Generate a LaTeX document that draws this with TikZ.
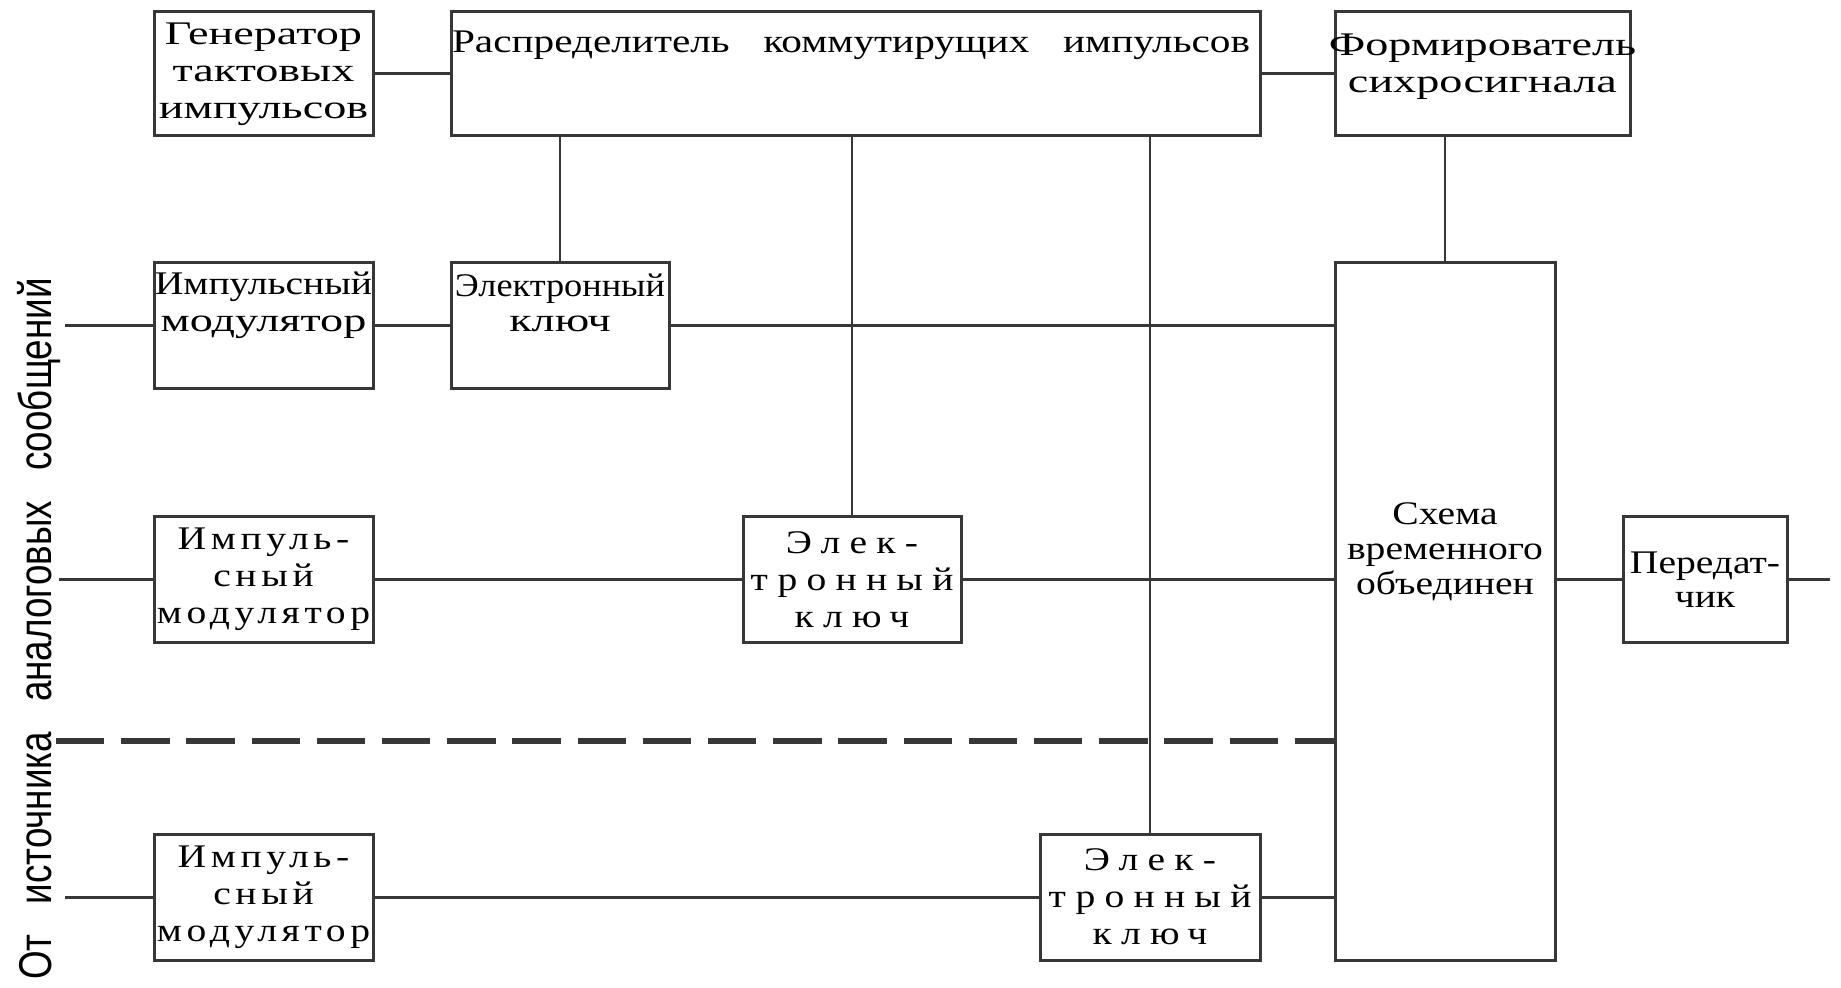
\documentclass[tikz,border=0pt]{standalone}
\usepackage{fontspec}
\setmainfont{Liberation Serif}
\newfontfamily\boxfont[FakeStretch=1.4]{Liberation Serif}
\newfontfamily\distrfont[FakeStretch=1.25]{Liberation Serif}
\newfontfamily\narrowfont[FakeStretch=1.2]{Liberation Serif}
\newfontfamily\tightfont[FakeStretch=1.1]{Liberation Serif}
\newfontfamily\spacedfont[FakeStretch=1.2,LetterSpace=14]{Liberation Serif}
\newfontfamily\widefont[FakeStretch=1.2,LetterSpace=28]{Liberation Serif}
\newfontfamily\sidefont[FakeStretch=0.8]{Liberation Sans}
\definecolor{lc}{RGB}{55,55,55}
\begin{document}
\begin{tikzpicture}[x=0.5pt,y=-0.5pt,
  box/.style={draw=lc,line width=1.5pt,inner sep=0pt,outer sep=0pt,align=center,
    font=\boxfont\fontsize{16.5}{18.5}\selectfont},
  txt/.style={inner sep=0pt,align=center,font=\boxfont\fontsize{16.5}{18.5}\selectfont},
  conn/.style={draw=lc,line width=1.5pt},
  vconn/.style={draw=lc,line width=1.1pt},
  sep/.style={draw=lc,line width=2.6pt,dash pattern=on 24.15pt off 8.45pt}]
\useasboundingbox (0,0) rectangle (1841,988);
% boxes
\node[box,minimum width=109.5pt,minimum height=62pt] (gen) at (263.5,74) {Генератор\\тактовых\\импульсов};
\node[box,minimum width=404.5pt,minimum height=62pt] (distr) at (855.5,74) {};
\node[box,minimum width=147.5pt,minimum height=62pt] (former) at (1482.5,74) {};
\node[box,minimum width=109.5pt,minimum height=63pt] (imp1) at (263.5,326) {};
\node[box,minimum width=109pt,minimum height=63pt] (key1) at (560,326) {};
\node[box,minimum width=110pt,minimum height=348.5pt] (schema) at (1445,611.5) {};
\node[box,minimum width=109.5pt,minimum height=62.5pt,font=\spacedfont\fontsize{16.5}{18.5}\selectfont] (imp2) at (263.5,579.5) {Импуль-\\сный\\модулятор};
\node[box,minimum width=109pt,minimum height=62.5pt,font=\widefont\fontsize{16.5}{18.5}\selectfont] (key2) at (852,579.5) {Элек-\\тронный\\ключ};
\node[box,minimum width=82pt,minimum height=62.5pt,font=\narrowfont\fontsize{16.5}{17}\selectfont] (trans) at (1705,579.5) {Передат-\\чик};
\node[box,minimum width=109.5pt,minimum height=63pt,font=\spacedfont\fontsize{16.5}{18.5}\selectfont] (imp3) at (263.5,897) {Импуль-\\сный\\модулятор};
\node[box,minimum width=110pt,minimum height=63pt,font=\widefont\fontsize{16.5}{18.5}\selectfont] (key3) at (1150,897) {Элек-\\тронный\\ключ};
% texts placed at top of boxes
\node[txt,font=\distrfont\fontsize{16.5}{18.5}\selectfont] (distrt) at (851,45) {\makebox[399pt][s]{Распределитель\hfill коммутирущих\hfill импульсов}};
\node[txt] (formert) at (1482.5,67) {Формирователь\\сихросигнала};
\node[txt] (imp1t) at (263.5,305) {{\narrowfont Импульсный}\\модулятор};
\node[txt,font=\tightfont\fontsize{16.5}{17.5}\selectfont] (key1t) at (560,303) {Электронный\\{\boxfont ключ}};
\node[txt,font=\narrowfont\fontsize{16.5}{17.5}\selectfont] (schemat) at (1445,552) {Схема\\временного\\объединен};
% side label
\node[rotate=90,anchor=base,inner sep=0pt,font=\sidefont\fontsize{23}{23}\selectfont] (side) at (51,629)
  {От\hspace{15pt}источника\hspace{15pt}аналоговых\hspace{15pt}сообщений};
% input coordinates
\coordinate (in1) at (65,326);
\coordinate (in2) at (59,579.5);
\coordinate (in3) at (65,897);
\coordinate (out) at (1830,579.5);
\coordinate (dsh) at (56,741);
% connectors
\draw[conn] (gen.east) -- (distr.west);
\draw[conn] (distr.east) -- (former.west);
\draw[vconn] (key1.north) -- (key1.north |- distr.south);
\draw[vconn] (key2.north) -- (key2.north |- distr.south);
\draw[vconn] (key3.north) -- (key3.north |- distr.south);
\draw[vconn] (schema.north) -- (schema.north |- former.south);
\draw[conn] (in1) -- (imp1.west);
\draw[conn] (imp1.east) -- (key1.west);
\draw[conn] (key1.east) -- (key1.east -| schema.west);
\draw[conn] (in2) -- (imp2.west);
\draw[conn] (imp2.east) -- (key2.west);
\draw[conn] (key2.east) -- (key2.east -| schema.west);
\draw[conn] (in3) -- (imp3.west);
\draw[conn] (imp3.east) -- (key3.west);
\draw[conn] (key3.east) -- (key3.east -| schema.west);
\draw[conn] (schema.east |- trans.west) -- (trans.west);
\draw[conn] (trans.east) -- (out);
\draw[sep] (dsh) -- (dsh -| schema.west);
\end{tikzpicture}
\end{document}
